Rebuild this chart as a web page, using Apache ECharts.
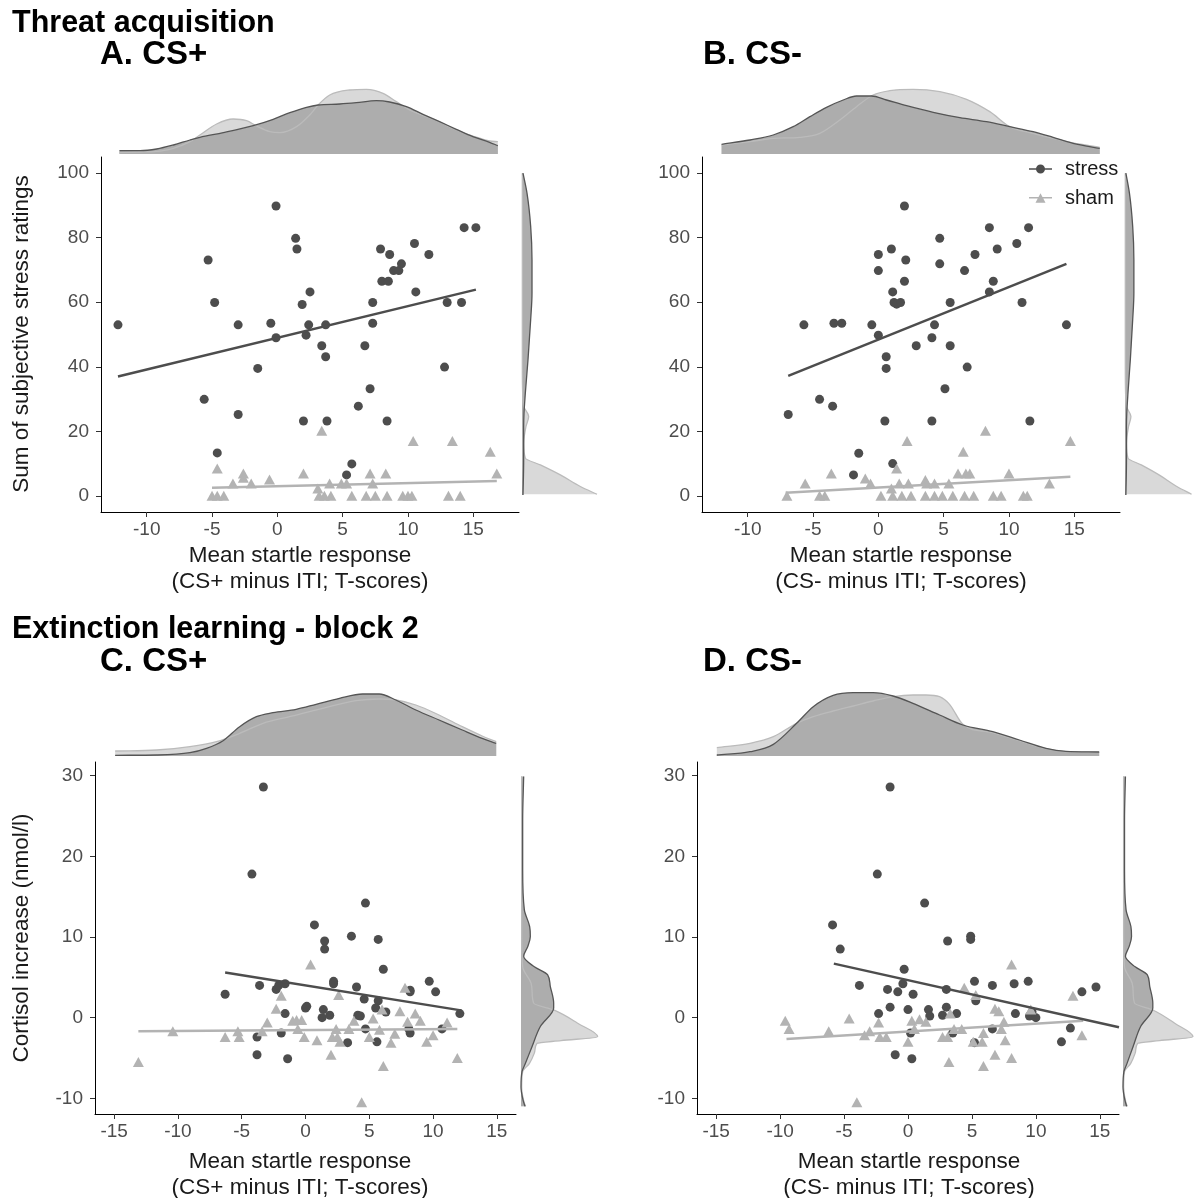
<!DOCTYPE html>
<html>
<head>
<meta charset="utf-8">
<script src="https://cdn.jsdelivr.net/npm/echarts@6/dist/echarts.min.js"></script>
<style>
html, body { margin: 0; padding: 0; background: #fff; }
#chart { width: 1196px; height: 1198px; }
</style>
</head>
<body>
<div id="chart"></div>
<script>
// ---- tick labels ----
var ticksX_AB = [-10, -5, 0, 5, 10, 15];
var ticksY_AB = [0, 20, 40, 60, 80, 100];
var ticksX_CD = [-15, -10, -5, 0, 5, 10, 15];
var ticksY_CD = [-10, 0, 10, 20, 30];

// ---- A. CS+ (threat acquisition) ----
var stressA = [[-12.2,53.0],[-5.3,73.1],[-4.8,59.9],[-5.6,29.9],[-4.6,13.3],[-3.0,53.0],[-3.0,25.2],[-1.5,39.5],[-0.5,53.5],[-0.1,89.8],[-0.1,49.0],[1.4,79.8],[1.5,76.5],[1.9,59.3],[2.5,63.2],[2.4,53.0],[2.2,49.8],[2.0,23.2],[3.4,46.5],[3.7,43.1],[3.7,53.0],[3.8,23.2],[5.3,6.5],[5.7,9.9],[6.2,27.8],[6.7,46.5],[7.1,33.2],[7.3,53.5],[7.3,59.9],[7.9,76.5],[8.6,74.8],[8.0,66.5],[8.5,66.5],[8.4,23.2],[8.9,69.8],[9.3,69.8],[9.5,71.9],[10.5,78.2],[10.6,63.2],[11.6,74.8],[12.8,39.9],[13.0,59.9],[14.1,59.9],[14.3,83.1],[15.2,83.1]];
var shamA = [[-4.6,8.5],[-5.0,0],[-4.6,0],[-4.1,0],[-3.4,3.8],[-2.6,6.9],[-2.6,5.6],[-2.0,3.8],[-0.6,5.1],[2.0,6.9],[3.4,20.2],[3.1,2.3],[3.2,0],[3.6,0],[4.1,0],[4.0,3.8],[4.9,3.8],[5.3,3.8],[5.7,0],[6.8,0],[7.1,6.9],[7.3,3.8],[7.5,0],[8.3,6.9],[8.4,0],[9.6,0],[10.0,0],[10.3,0],[10.4,17.0],[13.1,0],[14.0,0],[13.4,17.0],[16.3,13.7],[16.8,6.9]];
var fitStressA = [[-12.2,37.0],[15.2,63.9]];
var fitShamA = [[-5.0,2.5],[16.8,4.6]];
var topStressA = [[-12.09,10],[-10.51,10],[-9.24,15],[-7.96,27],[-6.69,42],[-5.93,50],[-4.14,64],[-1.85,85],[-0.32,104],[0.96,124],[2.23,140],[3.12,147],[4.78,150],[6.05,154],[7.58,160],[8.60,156],[9.88,142],[11.15,119],[12.42,97],[13.70,74],[14.97,52],[16.25,35],[16.88,25]];
var topShamA = [[-12.09,4],[-10.51,6],[-9.24,8],[-7.96,17],[-6.69,37],[-5.93,57],[-4.65,90],[-3.38,105],[-2.36,100],[-1.59,84],[-0.57,67],[0.19,64],[1.47,82],[2.48,117],[3.12,147],[4.01,177],[5.54,192],[6.82,194],[8.09,182],[9.11,157],[10.13,132],[11.15,116],[12.42,96],[13.70,72],[14.97,54],[16.25,39],[16.88,37]];

// ---- B. CS- (threat acquisition) ----
var stressB = [[-6.9,25.2],[-5.7,53.0],[-4.5,29.9],[-3.5,27.8],[-3.4,53.5],[-2.8,53.5],[-1.9,6.5],[-1.5,13.2],[-0.5,53.0],[0.0,74.8],[0.0,69.8],[0.0,49.8],[0.6,43.1],[0.6,39.5],[0.5,23.2],[1.0,76.5],[1.1,63.2],[1.2,59.9],[1.4,59.4],[1.7,59.9],[1.1,10.0],[2.0,89.8],[2.1,73.1],[2.0,66.5],[2.9,46.5],[4.1,49.0],[4.3,53.0],[4.1,23.2],[4.7,79.8],[4.7,71.9],[5.1,33.2],[5.5,59.9],[5.5,46.5],[6.6,69.8],[6.8,39.9],[7.4,74.8],[8.5,83.1],[8.5,63.2],[8.8,66.5],[9.1,76.5],[10.6,78.2],[11.0,59.9],[11.5,83.1],[11.6,23.2],[14.4,53.0]];
var shamB = [[-7.0,0],[-5.6,3.8],[-4.5,0],[-4.1,0],[-3.6,6.9],[-1.0,5.4],[-0.6,3.8],[0.2,0],[1.0,2.3],[1.1,0],[1.4,8.5],[1.6,3.8],[1.8,0],[2.2,17.0],[2.3,3.8],[2.5,0],[3.6,0],[3.6,4.9],[3.7,3.8],[4.3,3.8],[4.3,0],[4.9,0],[5.4,3.8],[5.7,0],[6.1,6.9],[6.5,13.7],[6.7,6.9],[7.0,6.9],[6.6,0],[7.3,0],[8.2,20.2],[8.8,0],[9.4,0],[10.0,6.9],[11.1,0],[11.4,0],[13.1,3.8],[14.7,17.0]];
var fitStressB = [[-6.9,37.2],[14.4,71.9]];
var fitShamB = [[-7.1,1.0],[14.7,5.9]];
var topStressB = [[-12.0,29],[-9.83,42],[-8.05,57],[-6.52,82],[-5.24,112],[-3.97,140],[-2.69,162],[-1.67,174],[-0.52,174],[0.62,162],[2.16,145],[4.20,125],[6.24,109],[8.28,97],[10.06,82],[11.85,67],[13.38,50],[14.91,32],[16.95,17]];
var topShamB = [[-12.0,27],[-9.83,37],[-8.05,47],[-6.01,50],[-4.48,62],[-2.95,102],[-1.67,142],[-0.40,177],[0.88,190],[2.67,194],[4.71,187],[6.75,164],[8.53,127],[10.06,82],[11.85,62],[13.38,47],[14.91,33],[16.95,20]];

// right margin of A and B (same ratings)
var rightStressAB = [[3,100],[15,93.8],[26,83.5],[30,73.2],[30,62.8],[26,54.6],[18,42.2],[10,31.8],[6,25.6],[5,21.5],[5,11.2],[3,0.3]];
var rightShamAB = [[1,100],[1,40],[2,31.8],[5,27.7],[20,24.6],[12,21.5],[5,16.3],[10,11.7],[55,9.6],[115,6.5],[175,2.9],[225,0.5]];

// ---- C. CS+ (extinction block 2) ----
var stressC = [[-3.3,28.6],[-4.2,17.8],[4.7,14.2],[0.7,11.5],[1.5,9.5],[1.5,8.5],[3.6,10.1],[5.7,9.7],[6.1,6.0],[-6.3,2.9],[-3.6,4.0],[-2.3,3.5],[-2.1,4.0],[-1.6,4.2],[-1.6,0.5],[-1.9,-1.9],[-3.8,-2.4],[-3.8,-4.6],[-1.4,-5.1],[0.0,1.2],[0.1,1.4],[1.4,1.0],[1.3,0.0],[1.9,0.3],[2.2,4.5],[2.2,4.2],[4.0,3.8],[4.1,0.3],[4.3,0.2],[4.6,2.3],[4.7,-1.4],[3.3,-3.1],[5.7,2.1],[5.5,1.2],[6.3,0.7],[5.6,-3.0],[8.2,3.4],[8.2,3.2],[8.2,-1.9],[8.1,-1.4],[9.7,4.5],[10.2,3.2],[10.7,-1.4],[12.1,0.5]];
var shamC = [[-13.1,-5.5],[-10.4,-1.7],[-6.3,-2.4],[-5.3,-1.7],[-5.2,-2.4],[-3.4,-1.7],[-3.0,-0.6],[-2.3,1.1],[-1.9,2.7],[-1.0,-0.4],[-0.7,-0.3],[-0.3,-0.3],[-0.6,-1.4],[-0.1,-2.4],[0.4,6.6],[0.9,-2.8],[2.0,-4.6],[2.1,-2.4],[2.4,-1.4],[2.6,2.8],[2.7,-3.0],[2.5,-2.4],[3.4,-1.4],[3.8,-0.4],[4.4,-10.5],[5.0,-2.4],[5.3,-0.1],[5.8,-1.5],[6.0,1.0],[6.1,-6.0],[6.7,-3.1],[7.0,-2.0],[7.4,0.8],[7.8,3.7],[8.0,-0.5],[8.6,0.5],[9.0,-0.4],[9.5,-3.0],[10.0,-2.2],[11.1,-0.6],[11.9,-5.0]];
var fitStressC = [[-6.3,5.6],[12.2,0.9]];
var fitShamC = [[-13.1,-1.7],[11.9,-1.4]];
var topStressC = [[-14.92,2],[-11.67,3],[-9.06,10],[-7.76,23],[-6.46,46],[-5.16,88],[-3.85,118],[-2.55,130],[-0.73,140],[0.83,155],[2.66,173],[4.48,186],[5.78,186],[7.08,168],[8.65,138],[10.47,108],[12.29,78],[13.85,53],[14.95,38]];
var topShamC = [[-14.92,15],[-11.67,18],[-9.06,28],[-6.98,43],[-5.16,68],[-3.33,98],[-1.25,118],[1.35,143],[3.96,166],[5.78,171],[7.08,168],[8.65,153],[10.47,123],[12.29,88],[13.85,60],[14.95,43]];

// ---- D. CS- (extinction block 2) ----
var stressD = [[-1.4,28.6],[-2.4,17.8],[1.3,14.2],[-5.9,11.5],[-5.3,8.5],[3.1,9.5],[4.9,10.1],[4.9,9.7],[-0.3,6.0],[-3.8,4.0],[-1.6,3.5],[-0.8,3.2],[-0.4,4.2],[0.4,2.9],[3.0,3.5],[5.2,4.5],[5.3,2.1],[6.6,4.0],[8.3,4.2],[9.4,4.5],[13.6,3.2],[14.7,3.8],[-2.3,0.5],[-1.4,1.3],[0.0,1.0],[1.6,1.0],[1.7,0.2],[2.7,0.3],[3.0,1.3],[3.8,0.5],[3.5,-1.9],[0.2,-1.9],[-1.0,-4.6],[0.3,-5.1],[5.2,-3.1],[6.6,-1.4],[8.4,0.5],[9.5,0.2],[10.0,0.0],[12.7,-1.3],[12.0,-3.0],[9.7,0.7]];
var shamD = [[-9.6,-0.4],[-9.3,-1.4],[-6.2,-1.7],[-4.6,-0.1],[-4.0,-10.5],[-3.4,-2.2],[-3.0,-1.7],[-2.3,-0.6],[-2.2,-2.4],[-1.7,-2.4],[0.0,-3.0],[0.3,-0.4],[0.5,-1.4],[0.9,-0.2],[1.4,-0.5],[2.7,-2.4],[3.1,-2.4],[3.2,-5.5],[3.3,0.5],[3.6,-1.4],[4.2,-1.4],[4.4,3.7],[5.3,2.8],[5.1,-3.0],[5.8,-3.0],[5.9,-1.9],[5.9,-6.0],[6.8,1.1],[7.1,0.8],[6.8,-4.6],[7.5,-0.5],[7.3,-1.4],[7.6,-2.8],[8.1,6.6],[8.1,-5.0],[9.6,1.0],[12.9,2.7],[13.6,-2.2]];
var fitStressD = [[-5.8,6.7],[16.5,-1.2]];
var fitShamD = [[-9.5,-2.65],[13.7,-0.4]];
var topStressD = [[-14.95,3],[-12.35,13],[-10.53,35],[-8.71,98],[-7.41,148],[-5.85,182],[-4.29,190],[-2.73,190],[-1.17,180],[0.39,158],[2.47,123],[4.29,93],[6.63,73],[8.71,48],[10.79,23],[12.35,14],[14.95,12]];
var topShamD = [[-14.95,25],[-12.35,38],[-10.53,58],[-8.71,98],[-7.41,118],[-5.85,135],[-4.29,150],[-2.73,165],[-1.17,178],[0.39,183],[1.43,183],[2.47,178],[3.25,155],[4.29,95],[6.63,70],[8.71,46],[10.79,22],[12.35,13],[14.95,11]];

// right margin of C and D (same cortisol values)
var rightStressCD = [[8,29.9],[5,24.5],[5,18.3],[10,13.4],[26,11.3],[28,10.05],[20,8.8],[8,7.6],[40,6.3],[80,5.3],[88,3.85],[98,1.8],[98,1.2],[58,-1.1],[33,-3.6],[13,-5.7],[3,-6.7],[0,-8.6],[6,-10.2],[12,-11.0]];
var rightShamCD = [[2,29.9],[2,10.05],[5,6.3],[30,4.3],[38,1.8],[98,0.95],[170,-0.7],[230,-2.36],[120,-2.85],[48,-3.2],[40,-4.4],[25,-5.7],[5,-6.7],[2,-8.6],[10,-10.6],[14,-11.0]];

var FONT = '"Liberation Sans", Arial, sans-serif';
var DARK = '#4d4d4d', LIGHT = '#b3b3b3';

var panels = [
  { main: {left: 101, top: 157, width: 418, height: 355}, topG: {left: 101, top: 84, width: 418, height: 70}, rightG: {left: 522, top: 157, width: 80, height: 355},
    xMin: -13.5, xMax: 18.5, yMin: -5, yMax: 105, xTicks: ticksX_AB, yTicks: ticksY_AB,
    stress: stressA, sham: shamA, fitStress: fitStressA, fitSham: fitShamA, topStress: topStressA, topSham: topShamA, rightStress: rightStressAB, rightSham: rightShamAB },
  { main: {left: 702, top: 157, width: 418, height: 355}, topG: {left: 702, top: 84, width: 418, height: 70}, rightG: {left: 1125, top: 157, width: 80, height: 355},
    xMin: -13.5, xMax: 18.5, yMin: -5, yMax: 105, xTicks: ticksX_AB, yTicks: ticksY_AB,
    stress: stressB, sham: shamB, fitStress: fitStressB, fitSham: fitShamB, topStress: topStressB, topSham: topShamB, rightStress: rightStressAB, rightSham: rightShamAB },
  { main: {left: 95, top: 762, width: 421, height: 352}, topG: {left: 95, top: 686, width: 421, height: 70}, rightG: {left: 521, top: 762, width: 80, height: 352},
    xMin: -16.5, xMax: 16.5, yMin: -11.95, yMax: 31.7, xTicks: ticksX_CD, yTicks: ticksY_CD,
    stress: stressC, sham: shamC, fitStress: fitStressC, fitSham: fitShamC, topStress: topStressC, topSham: topShamC, rightStress: rightStressCD, rightSham: rightShamCD },
  { main: {left: 697, top: 762, width: 422, height: 352}, topG: {left: 697, top: 686, width: 422, height: 70}, rightG: {left: 1123, top: 762, width: 80, height: 352},
    xMin: -16.5, xMax: 16.5, yMin: -11.95, yMax: 31.7, xTicks: ticksX_CD, yTicks: ticksY_CD,
    stress: stressD, sham: shamD, fitStress: fitStressD, fitSham: fitShamD, topStress: topStressD, topSham: topShamD, rightStress: rightStressCD, rightSham: rightShamCD }
];

// smooth (monotone) path through the density points, built on the axis coords
function densityPath(api, pts, horiz, closed) {
  var c = pts.map(function (p) { return api.coord(p); });
  var U = c.map(function (q) { return horiz ? q[1] : q[0]; });
  var H = c.map(function (q) { return horiz ? q[0] : q[1]; });
  var n = c.length, s = [], m = [], i;
  for (i = 0; i < n - 1; i++) s.push((H[i + 1] - H[i]) / (U[i + 1] - U[i]));
  for (i = 0; i < n; i++) {
    if (i === 0) m.push(s[0]);
    else if (i === n - 1) m.push(s[n - 2]);
    else if (s[i - 1] * s[i] <= 0) m.push(0);
    else {
      var v = (s[i - 1] + s[i]) / 2;
      var lim = 3 * Math.min(Math.abs(s[i - 1]), Math.abs(s[i]));
      if (Math.abs(v) > lim) v = v > 0 ? lim : -lim;
      m.push(v);
    }
  }
  function pt(u, h) { return horiz ? (h.toFixed(2) + ',' + u.toFixed(2)) : (u.toFixed(2) + ',' + h.toFixed(2)); }
  var d = 'M' + pt(U[0], H[0]);
  for (i = 0; i < n - 1; i++) {
    var du = (U[i + 1] - U[i]) / 3;
    d += 'C' + pt(U[i] + du, H[i] + m[i] * du) + ' ' + pt(U[i + 1] - du, H[i + 1] - m[i + 1] * du) + ' ' + pt(U[i + 1], H[i + 1]);
  }
  if (closed) {
    var b1 = horiz ? api.coord([0, pts[n - 1][1]]) : api.coord([pts[n - 1][0], 0]);
    var b0 = horiz ? api.coord([0, pts[0][1]]) : api.coord([pts[0][0], 0]);
    d += 'L' + b1[0].toFixed(2) + ',' + b1[1].toFixed(2) + 'L' + b0[0].toFixed(2) + ',' + b0[1].toFixed(2) + 'Z';
  }
  return d;
}

function densitySeries(gi, pts, horiz, fill, color, z) {
  return {
    type: 'custom', xAxisIndex: gi, yAxisIndex: gi, data: pts, z: z, silent: true, clip: false,
    renderItem: function (params, api) {
      if (params.dataIndex !== 0) return;
      return {
        type: 'path',
        shape: { pathData: densityPath(api, pts, horiz, fill) },
        style: fill ? { fill: color, stroke: null } : { fill: 'none', stroke: color, lineWidth: 1.3 }
      };
    }
  };
}

var grid = [], xAxis = [], yAxis = [], series = [];

panels.forEach(function (p, k) {
  var gm = 3 * k, gt = 3 * k + 1, gr = 3 * k + 2;
  grid.push(p.main, p.topG, p.rightG);

  xAxis.push({
    type: 'value', gridIndex: gm, min: p.xMin, max: p.xMax,
    axisLine: { show: true, onZero: false, lineStyle: { color: '#000', width: 1 } },
    axisTick: { show: true, length: 5, lineStyle: { color: '#333' }, customValues: p.xTicks },
    axisLabel: { customValues: p.xTicks, fontSize: 19, color: '#4d4d4d', margin: 8, fontFamily: FONT },
    splitLine: { show: false }
  });
  yAxis.push({
    type: 'value', gridIndex: gm, min: p.yMin, max: p.yMax,
    axisLine: { show: true, onZero: false, lineStyle: { color: '#000', width: 1 } },
    axisTick: { show: true, length: 5, lineStyle: { color: '#333' }, customValues: p.yTicks },
    axisLabel: { customValues: p.yTicks, fontSize: 19, color: '#4d4d4d', margin: 12, fontFamily: FONT },
    splitLine: { show: false }
  });
  // top marginal
  xAxis.push({ type: 'value', gridIndex: gt, min: p.xMin, max: p.xMax, show: false });
  yAxis.push({ type: 'value', gridIndex: gt, min: 0, max: 210, show: false });
  // right marginal
  xAxis.push({ type: 'value', gridIndex: gr, min: 0, max: 240, show: false });
  yAxis.push({ type: 'value', gridIndex: gr, min: p.yMin, max: p.yMax, show: false });

  series.push(
    { type: 'scatter', name: 'stress', xAxisIndex: gm, yAxisIndex: gm, data: p.stress, symbol: 'circle', symbolSize: 9,
      itemStyle: { color: DARK, opacity: 1 }, z: 3, silent: true },
    { type: 'scatter', name: 'sham', xAxisIndex: gm, yAxisIndex: gm, data: p.sham, symbol: 'triangle', symbolSize: [11, 10],
      itemStyle: { color: LIGHT, opacity: 1 }, z: 4, silent: true },
    { type: 'line', name: 'fit sham', xAxisIndex: gm, yAxisIndex: gm, data: p.fitSham, symbol: 'none',
      lineStyle: { color: LIGHT, width: 2.5 }, z: 5, silent: true },
    { type: 'line', name: 'fit stress', xAxisIndex: gm, yAxisIndex: gm, data: p.fitStress, symbol: 'none',
      lineStyle: { color: DARK, width: 2.5 }, z: 6, silent: true },

    densitySeries(gt, p.topSham, false, true, '#d9d9d9', 1),
    densitySeries(gt, p.topStress, false, true, '#adadad', 2),
    densitySeries(gt, p.topSham, false, false, '#bbbbbb', 3),
    densitySeries(gt, p.topStress, false, false, '#555555', 4),

    densitySeries(gr, p.rightSham, true, true, '#d9d9d9', 1),
    densitySeries(gr, p.rightStress, true, true, '#adadad', 2),
    densitySeries(gr, p.rightSham, true, false, '#bbbbbb', 3),
    densitySeries(gr, p.rightStress, true, false, '#555555', 4)
  );
});

var titleFont = 'bold 30.5px ' + FONT;
var panelFont = 'bold 33px ' + FONT;
var labelFont = '22.5px ' + FONT;
function txt(x, y, text, font, extra) {
  var st = { text: text, font: font, fill: '#000' };
  for (var k in extra) st[k] = extra[k];
  return { type: 'text', x: x, y: y, style: st, silent: true };
}
var xTitleA = 'Mean startle response\n(CS+ minus ITI; T-scores)';
var xTitleB = 'Mean startle response\n(CS- minus ITI; T-scores)';
var xT = { align: 'center', verticalAlign: 'top', lineHeight: 26, fill: '#1a1a1a' };
var pT = { verticalAlign: 'middle' };

var graphic = [
  txt(12, 8, 'Threat acquisition', titleFont, {}),
  txt(100, 55, 'A. CS+', panelFont, pT),
  txt(703, 55, 'B. CS-', panelFont, pT),
  txt(12, 614, 'Extinction learning - block 2', titleFont, {}),
  txt(100, 662, 'C. CS+', panelFont, pT),
  txt(703, 662, 'D. CS-', panelFont, pT),
  txt(300, 543, xTitleA, labelFont, xT),
  txt(901, 543, xTitleB, labelFont, xT),
  txt(300, 1149, xTitleA, labelFont, xT),
  txt(909, 1149, xTitleB, labelFont, xT)
];
var yT1 = txt(22, 334, 'Sum of subjective stress ratings', labelFont, { align: 'center', verticalAlign: 'middle', fill: '#1a1a1a' });
yT1.rotation = Math.PI / 2;
var yT2 = txt(22, 938, 'Cortisol increase (nmol/l)', labelFont, { align: 'center', verticalAlign: 'middle', fill: '#1a1a1a' });
yT2.rotation = Math.PI / 2;
graphic.push(yT1, yT2);

var option = {
  animation: false,
  backgroundColor: '#fff',
  grid: grid,
  xAxis: xAxis,
  yAxis: yAxis,
  legend: {
    orient: 'vertical', left: 1029, top: 159, padding: 0,
    itemWidth: 23, itemHeight: 10, itemGap: 9, selectedMode: false,
    textStyle: { fontSize: 20, color: '#1a1a1a', fontFamily: FONT, lineHeight: 20, padding: [0, 0, 0, 8] },
    data: [
      { name: 'stress', icon: 'path://M0,4.2L23,4.2L23,5.8L0,5.8Z M7,5A4.5,4.5,0,1,1,16,5A4.5,4.5,0,1,1,7,5Z' },
      { name: 'sham', icon: 'path://M0,4.2L23,4.2L23,5.8L0,5.8Z M6.5,10L11.5,0.5L16.5,10Z' }
    ]
  },
  graphic: graphic,
  series: series
};

var chart = echarts.init(document.getElementById('chart'));
chart.setOption(option);
</script>
</body>
</html>
